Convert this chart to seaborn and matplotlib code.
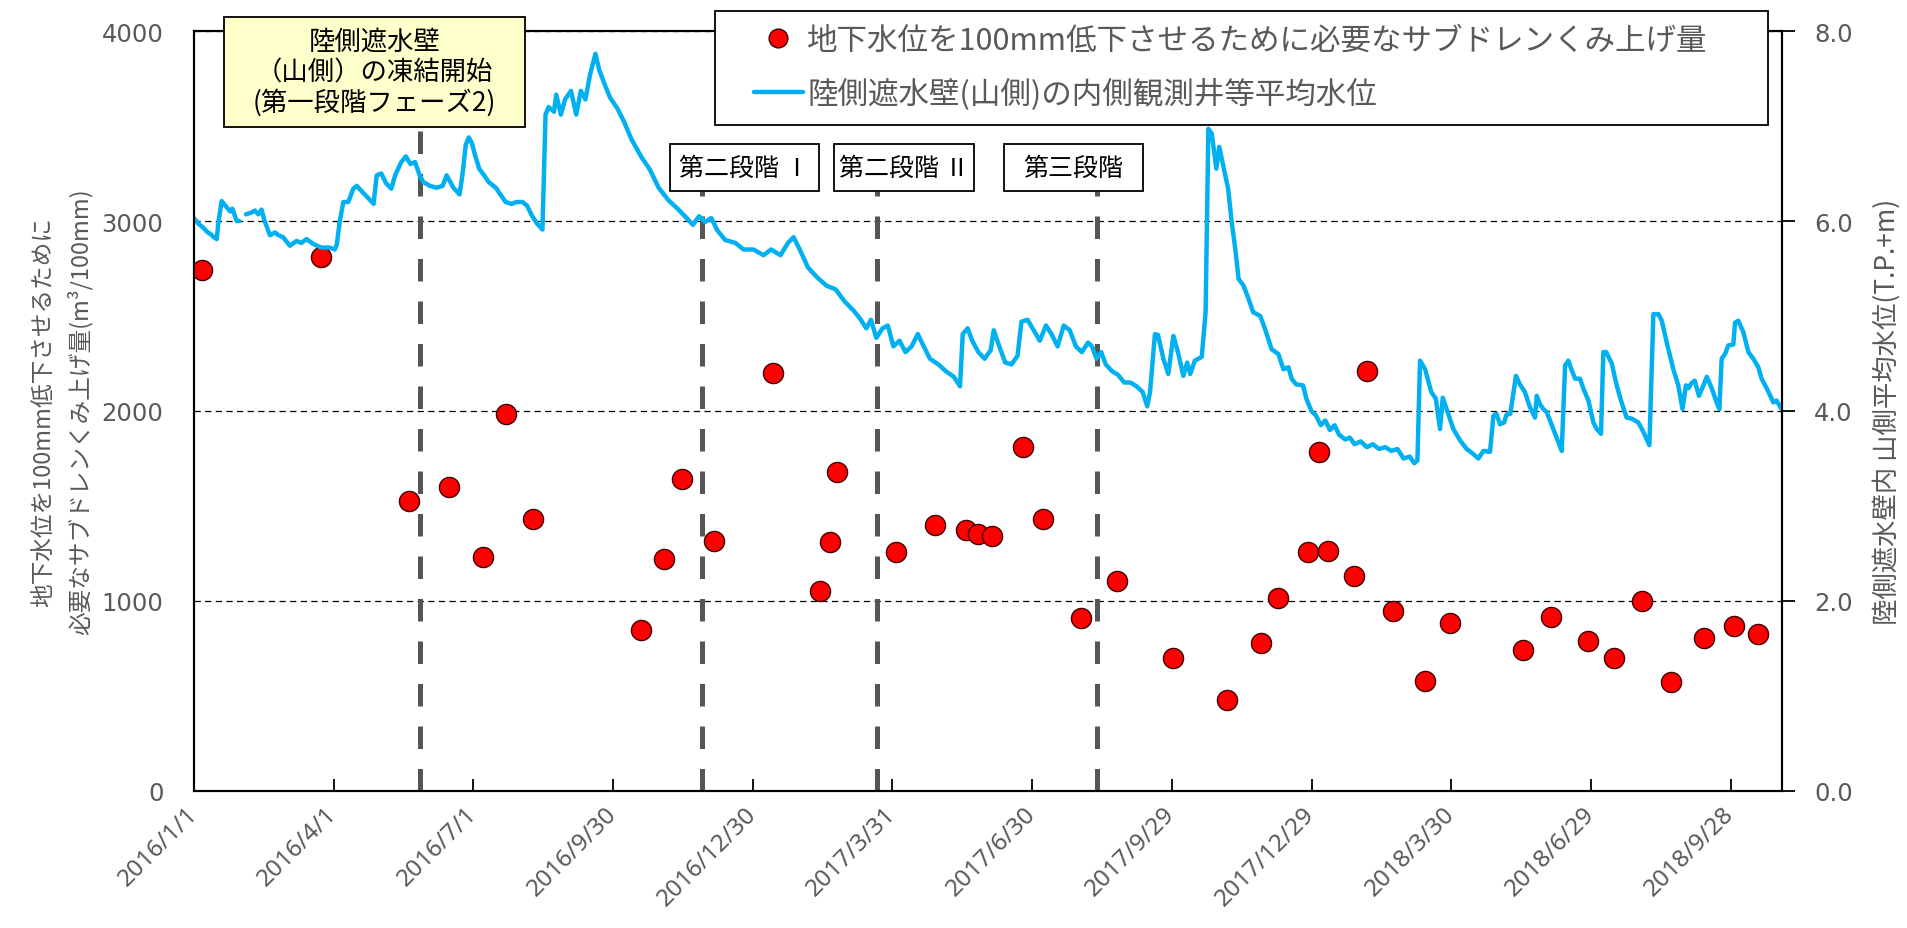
import numpy as np
import pandas as pd
import matplotlib
matplotlib.use("Agg")
import matplotlib.pyplot as plt
from matplotlib.lines import Line2D
from matplotlib.patches import Rectangle
import seaborn as sns

# ---------------- data ----------------
START = "2016-01-01"

pump_dates = ["2016-01-06", "2016-03-24", "2016-05-20", "2016-06-15", "2016-07-07",
              "2016-07-22", "2016-08-09", "2016-10-18", "2016-11-02", "2016-11-14",
              "2016-12-05", "2017-01-12", "2017-02-12", "2017-02-18", "2017-02-23",
              "2017-04-02", "2017-04-28", "2017-05-18", "2017-05-26", "2017-06-04",
              "2017-06-24", "2017-07-07", "2017-08-01", "2017-08-24", "2017-09-30",
              "2017-11-04", "2017-11-26", "2017-12-07", "2017-12-27", "2018-01-03",
              "2018-01-09", "2018-01-26", "2018-02-03", "2018-02-20", "2018-03-13",
              "2018-03-29", "2018-05-16", "2018-06-03", "2018-06-27", "2018-07-14",
              "2018-08-01", "2018-08-20", "2018-09-11", "2018-09-30", "2018-10-16"]
pump_values = [2740, 2810, 1525, 1600, 1230,
               1985, 1430, 850, 1220, 1640,
               1315, 2200, 1055, 1310, 1680,
               1260, 1400, 1375, 1355, 1340,
               1810, 1430, 910, 1105, 700,
               480, 780, 1015, 1260, 1785,
               1265, 1130, 2210, 945, 580,
               885, 740, 915, 790, 700,
               1000, 575, 805, 870, 825]

# water level (T.P.+m) vs day offset from START; two stretches of record (gap in Jan 2016)
wl_days_a = [0, 3, 6, 9, 11, 13, 14.8, 16, 18, 21, 23.6, 25, 27.8, 29.5]
wl_vals_a = [6.03, 5.97, 5.93, 5.88, 5.86, 5.83, 5.81, 6.0, 6.21, 6.15, 6.1, 6.13, 6.0, 6.0]

wl_days_b = [33.9, 37.6, 39.7, 41.9, 44, 46, 49.5, 52.8, 55, 58,
             62.5, 66.8, 70, 73.3, 77.6, 80, 83, 88.5, 91.7, 93,
             95, 97.3, 100.5, 103.8, 106, 110, 113, 117, 119, 122,
             125, 128.5, 131, 133, 135, 138, 141, 144, 147, 149.4,
             153.7, 158, 162, 164.6, 169, 173, 175, 177, 179, 181,
             183, 185.8, 189, 192, 196.6, 200, 203, 207, 210, 214,
             217, 220, 223.6, 227, 229, 231, 234.5, 236, 239, 241.7,
             245.6, 249, 252, 255, 258, 261.5, 264, 267, 271, 276,
             280, 285, 291.6, 297, 302.7, 309, 315, 321, 325, 329,
             333, 337, 341, 346, 352.6, 358, 364.5, 371, 376, 382,
             387, 390.6, 394.6, 400, 405.7, 412, 418, 424, 429.5, 434,
             438, 441, 444.5, 448.5, 452, 455.6, 459.6, 463.5, 467.5, 471.5,
             475.4, 479.4, 485, 489.7, 495, 499, 500.8, 504, 507, 511,
             515, 519, 521, 524.6, 528.5, 532.5, 536.5, 539, 543, 547,
             551, 555, 558.6, 562.6, 566.6, 570.5, 574.5, 578.4, 582.4, 585,
             588, 591, 594, 598, 602, 606, 610, 614, 618, 621,
             622.8, 626, 628, 631.5, 634.7, 638, 641, 644.5, 647, 649,
             652, 656.5, 659, 660.8, 663, 666, 667.9, 670.5, 673.7, 676,
             678.3, 680.5, 683.7, 687, 690, 694.6, 697.8, 702, 706.4, 709.7,
             713, 715, 718, 722.5, 724.6, 728, 731, 734, 737, 740,
             743, 746, 750, 753, 756, 760, 764, 768, 772, 776,
             780, 784, 788, 792, 795, 797, 798.7, 802, 806, 809,
             810.5, 811.7, 813.5, 816, 820.4, 824.8, 829.1, 832.4, 836.7, 840,
             844.3, 846.5, 848.5, 850.8, 853.5, 855, 857.5, 861.2, 863.8, 867,
             870.3, 873.6, 874.7, 876.9, 879, 881.2, 885.5, 891, 893.2, 895.3,
             897.5, 899.7, 902.9, 905, 908.4, 911.6, 913.8, 916.6, 918.1, 920,
             923.6, 926.8, 930, 933.3, 936.5, 940.9, 944.2, 948.1, 950.7, 954,
             956.2, 959.4, 963.7, 966.9, 969.7, 971.9, 973.5, 975.4, 977.6, 980.4,
             983.3, 985.5, 988.7, 991.9, 993.7, 995.2, 997.4, 999.5, 1002.8, 1003.9,
             1006, 1009.3, 1012.6, 1015.8, 1019.1, 1021.2, 1024.5, 1028.9, 1031, 1034.2]
wl_vals_b = [6.07, 6.09, 6.11, 6.07, 6.12, 6.0, 5.85, 5.88, 5.85, 5.83,
             5.74, 5.79, 5.77, 5.81, 5.76, 5.74, 5.72, 5.72, 5.70, 5.75,
             6.0, 6.2, 6.2, 6.34, 6.37, 6.30, 6.25, 6.18, 6.48, 6.5,
             6.4, 6.34, 6.48, 6.55, 6.62, 6.68, 6.6, 6.62, 6.48, 6.41,
             6.37, 6.35, 6.37, 6.48, 6.35, 6.28, 6.5, 6.8, 6.88, 6.82,
             6.7, 6.55, 6.48, 6.41, 6.35, 6.27, 6.2, 6.18, 6.2, 6.2,
             6.16, 6.06, 5.97, 5.91, 7.12, 7.2, 7.15, 7.33, 7.12, 7.28,
             7.37, 7.12, 7.37, 7.28, 7.54, 7.76, 7.59, 7.46, 7.3, 7.18,
             7.05, 6.86, 6.67, 6.54, 6.35, 6.22, 6.13, 6.03, 5.96, 6.05,
             5.99, 6.03, 5.9, 5.8, 5.77, 5.7, 5.7, 5.64, 5.7, 5.64,
             5.77, 5.83, 5.7, 5.51, 5.41, 5.32, 5.28, 5.15, 5.06, 4.97,
             4.87, 4.96, 4.77, 4.87, 4.9, 4.68, 4.74, 4.62, 4.68, 4.81,
             4.68, 4.55, 4.49, 4.42, 4.36, 4.26, 4.81, 4.87, 4.74, 4.62,
             4.55, 4.64, 4.85, 4.68, 4.51, 4.49, 4.58, 4.94, 4.96, 4.85,
             4.74, 4.9, 4.81, 4.68, 4.9, 4.85, 4.68, 4.62, 4.72, 4.68,
             4.55, 4.62, 4.49, 4.42, 4.38, 4.3, 4.3, 4.26, 4.2, 4.05,
             4.2, 4.81, 4.80, 4.55, 4.39, 4.79, 4.62, 4.37, 4.51, 4.39,
             4.53, 4.57, 5.04, 6.97, 6.92, 6.55, 6.78, 6.58, 6.34, 5.99,
             5.71, 5.39, 5.32, 5.18, 5.04, 5.0, 4.86, 4.65, 4.6, 4.44,
             4.46, 4.34, 4.28, 4.27, 4.13, 4.0, 3.95, 3.85, 3.9, 3.8,
             3.85, 3.75, 3.7, 3.72, 3.65, 3.68, 3.62, 3.65, 3.6, 3.62,
             3.58, 3.6, 3.5, 3.52, 3.45, 3.48, 4.53, 4.44, 4.2, 4.13,
             3.95, 3.81, 4.14, 4.02, 3.81, 3.69, 3.6, 3.56, 3.5, 3.58,
             3.57, 3.95, 3.97, 3.86, 3.88, 3.96, 3.97, 4.37, 4.28, 4.2,
             4.04, 3.93, 4.16, 4.07, 4.02, 3.99, 3.81, 3.58, 4.48, 4.53,
             4.43, 4.34, 4.34, 4.24, 4.11, 3.88, 3.81, 3.76, 4.62, 4.62,
             4.5, 4.27, 4.09, 3.93, 3.92, 3.88, 3.78, 3.64, 5.02, 5.02,
             4.95, 4.72, 4.44, 4.27, 4.02, 4.27, 4.24, 4.29, 4.32, 4.16,
             4.27, 4.36, 4.24, 4.09, 4.02, 4.55, 4.6, 4.69, 4.7, 4.93,
             4.95, 4.83, 4.62, 4.55, 4.46, 4.34, 4.24, 4.09, 4.11, 4.02]

event_dates = ["2016-05-27", "2016-11-27", "2017-03-21", "2017-08-11"]
event_tops = [3495, 3158, 3158, 3158]
event_labels = ["陸側遮水壁\n（山側）の凍結開始\n(第一段階フェーズ2)",
                "第二段階 Ⅰ", "第二段階 Ⅱ", "第三段階"]

x_tick_labels = ["2016/1/1", "2016/4/1", "2016/7/1", "2016/9/30", "2016/12/30",
                 "2017/3/31", "2017/6/30", "2017/9/29", "2017/12/29", "2018/3/30",
                 "2018/6/29", "2018/9/28"]
left_ticks = [0, 1000, 2000, 3000, 4000]
right_ticks = [0.0, 2.0, 4.0, 6.0, 8.0]

legend_labels = ["地下水位を100mm低下させるために必要なサブドレンくみ上げ量",
                 "陸側遮水壁(山側)の内側観測井等平均水位"]
left_label = "地下水位を100mm低下させるために\n必要なサブドレンくみ上げ量(m³/100mm)"
right_label = "陸側遮水壁内 山側平均水位(T.P.+m)"

# ---------------- style ----------------
sns.set_theme(style="white")
plt.rcParams["font.family"] = ["Noto Sans CJK JP", "DejaVu Sans"]
GRAY = "#595959"
RED = "#FF0000"
BLUE = "#00B0F0"

fig = plt.figure(figsize=(19.07, 9.29), dpi=100)
ax = fig.add_axes([194 / 1907, (929 - 792) / 929, 1588 / 1907, 760 / 929])
ax2 = ax.twinx()

pump_df = pd.DataFrame({"date": pd.to_datetime(pump_dates), "value": pump_values})
start_ts = pd.Timestamp(START)
wl_df = pd.concat([
    pd.DataFrame({"date": start_ts + pd.to_timedelta(wl_days_a, unit="D"),
                  "wl": wl_vals_a, "seg": 0}),
    pd.DataFrame({"date": start_ts + pd.to_timedelta(wl_days_b, unit="D"),
                  "wl": wl_vals_b, "seg": 1}),
], ignore_index=True)

# scatter (left axis)
sns.scatterplot(data=pump_df, x="date", y="value", ax=ax, color=RED,
                edgecolor="#400000", linewidth=1.0, s=210, zorder=4, legend=False)

# event lines
ev = pd.to_datetime(event_dates)
ax.vlines(ev, 0, event_tops, colors="#555555", linestyles=(0, (4.5, 4)),
          linewidth=3.6, zorder=3)

# water level line (right axis)
sns.lineplot(data=wl_df, x="date", y="wl", units="seg", estimator=None, ax=ax2,
             color=BLUE, linewidth=3.2, legend=False, sort=False)

# axes limits / ticks
ax.set_xlim(start_ts, pd.Timestamp("2018-10-31 12:00"))
ax.set_ylim(0, 4000)
ax2.set_ylim(0, 8)

xt = pd.to_datetime(x_tick_labels, format="%Y/%m/%d")
ax.set_xticks(xt)
ax.set_xticklabels(x_tick_labels, rotation=45, ha="right", va="center",
                   rotation_mode="anchor", fontfamily="Noto Sans")
ax.tick_params(axis="x", direction="in", length=9, width=1.3, color="black",
               pad=14, labelsize=17.5, labelcolor=GRAY, bottom=True)

ax.set_yticks(left_ticks)
ax.set_yticklabels([f"{v}" for v in left_ticks], fontfamily="DejaVu Sans")
ax.tick_params(axis="y", length=0, pad=22, labelsize=17.5, labelcolor=GRAY, left=True)

ax2.set_yticks(right_ticks)
ax2.set_yticklabels([f"{v:.1f}" for v in right_ticks], fontfamily="DejaVu Sans")
ax2.tick_params(axis="y", direction="out", length=9, width=1.3, color="black",
                pad=14, labelsize=17.5, labelcolor=GRAY, right=True)

ax.set_xlabel("")
ax2.set_xlabel("")
ax.set_ylabel(left_label, fontsize=17, color=GRAY, linespacing=1.55)
ax.yaxis.set_label_coords(-0.064, 0.5)
ax2.set_ylabel(right_label, fontsize=19, color=GRAY)
ax2.yaxis.set_label_coords(1.057, 0.5)

# grid
ax.set_axisbelow(True)
ax.grid(axis="y", color="black", linestyle=(0, (5, 3.5)), linewidth=0.9)
ax.grid(axis="x", visible=False)
ax2.grid(False)

for a in (ax, ax2):
    for sp in a.spines.values():
        sp.set_visible(True)
        sp.set_color("black")
        sp.set_linewidth(1.5)

# annotation boxes (axes fractions)
box_specs = [
    (0.0189, 0.8737, 0.1896, 0.1447, "#FFFFCC", 19),
    (0.2997, 0.7895, 0.0939, 0.0618, "white", 18),
    (0.4030, 0.7895, 0.0882, 0.0618, "white", 18),
    (0.5101, 0.7895, 0.0875, 0.0618, "white", 18),
]
for (bx, by, bw, bh, fc, fs), txt in zip(box_specs, event_labels):
    ax2.add_patch(Rectangle((bx, by), bw, bh, transform=ax2.transAxes, facecolor=fc,
                            edgecolor="black", linewidth=1.3, zorder=8, clip_on=False))
    ax2.text(bx + bw / 2, by + bh / 2, txt, transform=ax2.transAxes, ha="center",
             va="center", fontsize=fs, color="black", linespacing=1.15, zorder=9,
             clip_on=False)

# legend: frame drawn as a rectangle, entries as a frameless legend
ax2.add_patch(Rectangle((0.328, 0.876), 0.663, 0.150, transform=ax2.transAxes,
                        facecolor="white", edgecolor="black", linewidth=1.3,
                        zorder=9, clip_on=False))
handles = [Line2D([], [], marker="o", linestyle="none", markersize=13.5,
                  markerfacecolor=RED, markeredgecolor="#400000", markeredgewidth=1.0),
           Line2D([], [], color=BLUE, linewidth=3.2)]
leg = ax2.legend(handles, legend_labels, loc="upper left",
                 bbox_to_anchor=(0.3505, 1.012), frameon=False, fontsize=22,
                 borderaxespad=0, borderpad=0.1, labelspacing=0.72,
                 handlelength=1.6, handletextpad=0.15, labelcolor=GRAY)
leg.set_zorder(10)

fig.savefig("out.png", dpi=100)
